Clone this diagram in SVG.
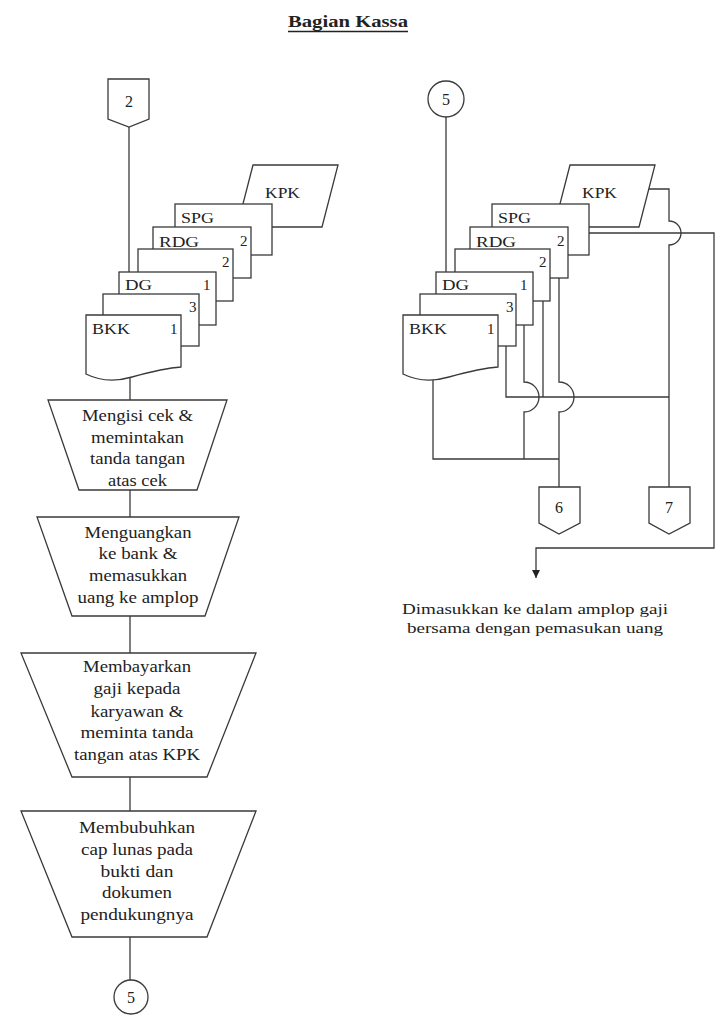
<svg xmlns="http://www.w3.org/2000/svg" width="724" height="1023" viewBox="0 0 724 1023">
<style>
.s{fill:#fff;stroke:#3a3a3a;stroke-width:1.3}
.l{fill:none;stroke:#3a3a3a;stroke-width:1.3}
.t{font-family:"Liberation Serif","Times New Roman",Times,serif;font-size:16px;fill:#222}
.d{font-family:"Liberation Serif","Times New Roman",Times,serif;font-size:15px;fill:#222}
.c{text-anchor:middle}
</style>
<defs>
<marker id="arr" markerWidth="9" markerHeight="8" refX="8" refY="4" orient="auto" markerUnits="userSpaceOnUse">
<path d="M0,0 L8,4 L0,8 Z" fill="#222"/>
</marker>
</defs>
<rect width="724" height="1023" fill="#fff"/>
<g id="title">
<text x="288" y="27" class="t" style="font-weight:bold" textLength="120" lengthAdjust="spacingAndGlyphs">Bagian Kassa</text>
<line x1="288" y1="31.5" x2="408" y2="31.5" stroke="#222" stroke-width="1.5"/>
</g>
<g id="connectors">
<path class="l" d="M129,127 V272"/>
<path class="l" d="M130,377 V400"/>
<path class="l" d="M130,490 V517"/>
<path class="l" d="M130,616 V653"/>
<path class="l" d="M130,777 V811"/>
<path class="l" d="M130,937 V980"/>
<path class="l" d="M446,117 V272"/>
<path class="l" d="M433,376 V459 H559"/>
<path class="l" d="M506,346 V397 H669"/>
<path class="l" d="M524,324 V382 A15,15 0 0 1 524,412 V459"/>
<path class="l" d="M543,300 V397"/>
<path class="l" d="M559,278 V382 A15,15 0 0 1 559,412 V487"/>
<path class="l" d="M648,189 H669 V221 A12,12 0 0 1 669,245 V487"/>
<path class="l" d="M588,233 H714 V548 H536 V578" marker-end="url(#arr)"/>
</g>
<g id="off2">
<path class="s" d="M108,79 H149 V119 L129,127 L108,119 Z"/>
<text x="129" y="107" class="t c">2</text>
</g>
<g id="docsL">
<g id="kpkL"><polygon class="s" points="253,165 338,165 322,227 237,227"/><text x="265" y="198" class="d" textLength="35" lengthAdjust="spacingAndGlyphs">KPK</text></g>
<g id="spgL"><rect class="s" x="175" y="204" width="97" height="51"/><text x="181" y="223" class="d" textLength="33" lengthAdjust="spacingAndGlyphs">SPG</text></g>
<g id="rdgL"><rect class="s" x="153" y="227" width="98" height="51"/><text x="159" y="247" class="d" textLength="40" lengthAdjust="spacingAndGlyphs">RDG</text><text x="240" y="246" class="d">2</text></g>
<g id="doc2L"><rect class="s" x="138" y="249" width="95" height="52"/><text x="222" y="267" class="d">2</text></g>
<g id="dgL"><rect class="s" x="119" y="272" width="97" height="53"/><text x="125" y="290" class="d" textLength="27" lengthAdjust="spacingAndGlyphs">DG</text><text x="203" y="290" class="d">1</text></g>
<g id="doc3L"><rect class="s" x="103" y="294" width="96" height="52"/><text x="189" y="312" class="d">3</text></g>
<g id="bkkL"><path class="s" d="M86,315 H181 V367 C165,368 150,372 132,377 C115,382 100,381 86,374 Z"/><text x="92" y="334" class="d" textLength="38" lengthAdjust="spacingAndGlyphs">BKK</text><text x="170" y="334" class="d">1</text></g>
</g>
<g id="proc1">
<polygon class="s" points="48,400 227,400 197,490 79,490"/>
<text x="137.5" y="421" class="t c" textLength="111" lengthAdjust="spacingAndGlyphs">Mengisi cek &amp;</text>
<text x="137.5" y="443" class="t c" textLength="93" lengthAdjust="spacingAndGlyphs">memintakan</text>
<text x="137.5" y="464" class="t c" textLength="95" lengthAdjust="spacingAndGlyphs">tanda tangan</text>
<text x="137.5" y="486" class="t c" textLength="59" lengthAdjust="spacingAndGlyphs">atas cek</text>
</g>
<g id="proc2">
<polygon class="s" points="37,517 239,517 205,616 72,616"/>
<text x="138" y="538" class="t c" textLength="107" lengthAdjust="spacingAndGlyphs">Menguangkan</text>
<text x="138" y="559" class="t c" textLength="79" lengthAdjust="spacingAndGlyphs">ke bank &amp;</text>
<text x="138" y="581" class="t c" textLength="98" lengthAdjust="spacingAndGlyphs">memasukkan</text>
<text x="138" y="603" class="t c" textLength="121" lengthAdjust="spacingAndGlyphs">uang ke amplop</text>
</g>
<g id="proc3">
<polygon class="s" points="21,653 256,653 207,777 72,777"/>
<text x="137" y="672" class="t c" textLength="108" lengthAdjust="spacingAndGlyphs">Membayarkan</text>
<text x="137" y="694" class="t c" textLength="87" lengthAdjust="spacingAndGlyphs">gaji kepada</text>
<text x="137" y="717" class="t c" textLength="93" lengthAdjust="spacingAndGlyphs">karyawan &amp;</text>
<text x="137" y="738" class="t c" textLength="113" lengthAdjust="spacingAndGlyphs">meminta tanda</text>
<text x="137" y="760" class="t c" textLength="126" lengthAdjust="spacingAndGlyphs">tangan atas KPK</text>
</g>
<g id="proc4">
<polygon class="s" points="21,811 256,811 207,937 72,937"/>
<text x="137" y="833" class="t c" textLength="116" lengthAdjust="spacingAndGlyphs">Membubuhkan</text>
<text x="137" y="855" class="t c" textLength="112" lengthAdjust="spacingAndGlyphs">cap lunas pada</text>
<text x="137" y="877" class="t c" textLength="73" lengthAdjust="spacingAndGlyphs">bukti dan</text>
<text x="137" y="898" class="t c" textLength="70" lengthAdjust="spacingAndGlyphs">dokumen</text>
<text x="137" y="920" class="t c" textLength="113" lengthAdjust="spacingAndGlyphs">pendukungnya</text>
</g>
<g id="on5L">
<circle class="s" cx="131" cy="997" r="17"/>
<text x="131" y="1003" class="t c">5</text>
</g>
<g id="on5R">
<circle class="s" cx="446" cy="99" r="18"/>
<text x="446" y="105" class="t c">5</text>
</g>
<g id="docsR" transform="translate(317,0)">
<g id="kpkR"><polygon class="s" points="253,165 338,165 322,227 237,227"/><text x="265" y="198" class="d" textLength="35" lengthAdjust="spacingAndGlyphs">KPK</text></g>
<g id="spgR"><rect class="s" x="175" y="204" width="97" height="51"/><text x="181" y="223" class="d" textLength="33" lengthAdjust="spacingAndGlyphs">SPG</text></g>
<g id="rdgR"><rect class="s" x="153" y="227" width="98" height="51"/><text x="159" y="247" class="d" textLength="40" lengthAdjust="spacingAndGlyphs">RDG</text><text x="240" y="246" class="d">2</text></g>
<g id="doc2R"><rect class="s" x="138" y="249" width="95" height="52"/><text x="222" y="267" class="d">2</text></g>
<g id="dgR"><rect class="s" x="119" y="272" width="97" height="53"/><text x="125" y="290" class="d" textLength="27" lengthAdjust="spacingAndGlyphs">DG</text><text x="203" y="290" class="d">1</text></g>
<g id="doc3R"><rect class="s" x="103" y="294" width="96" height="52"/><text x="189" y="312" class="d">3</text></g>
<g id="bkkR"><path class="s" d="M86,315 H181 V367 C165,368 150,372 132,377 C115,382 100,381 86,374 Z"/><text x="92" y="334" class="d" textLength="38" lengthAdjust="spacingAndGlyphs">BKK</text><text x="170" y="334" class="d">1</text></g>
</g>
<g id="off6">
<path class="s" d="M539,487 H580 V523 L559,534 L539,523 Z"/>
<text x="559" y="513" class="t c">6</text>
</g>
<g id="off7">
<path class="s" d="M649,487 H690 V523 L669,534 L649,523 Z"/>
<text x="669" y="513" class="t c">7</text>
</g>
<g id="note">
<text x="535" y="614" class="d c" textLength="266" lengthAdjust="spacingAndGlyphs">Dimasukkan ke dalam amplop gaji</text>
<text x="535" y="633" class="d c" textLength="256" lengthAdjust="spacingAndGlyphs">bersama dengan pemasukan uang</text>
</g>
</svg>
